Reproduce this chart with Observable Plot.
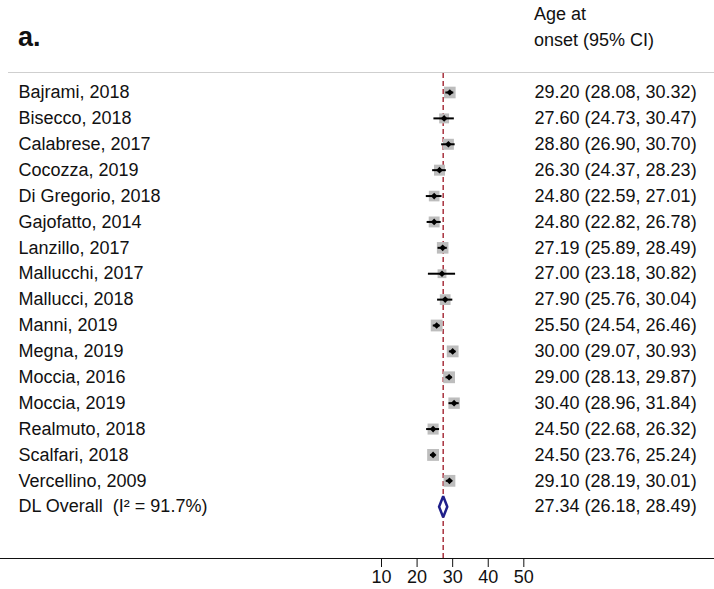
<!DOCTYPE html>
<html>
<head>
<meta charset="utf-8">
<script src="https://cdn.jsdelivr.net/npm/d3@7"></script>
<script src="https://cdn.jsdelivr.net/npm/@observablehq/plot@0.6"></script>
<style>
  html, body { margin: 0; padding: 0; background: #fff; }
  body { width: 714px; height: 589px; overflow: hidden; font-family: "Liberation Sans", Arial, sans-serif; color: #111; }
  #header { position: relative; height: 72px; margin-left: 8px; border-bottom: 1.5px solid #cfcfcf; }
  #panel { position: absolute; left: 10px; top: 22px; font-size: 27px; font-weight: bold; line-height: 30px; }
  #colhead { position: absolute; left: 526px; top: 1px; font-size: 18px; line-height: 26px; }
  #chart svg { display: block; }
</style>
</head>
<body>
<div id="header">
  <div id="panel">a.</div>
  <div id="colhead">Age at<br>onset (95% CI)</div>
</div>
<div id="chart"></div>
<script>
// ---- data ----
const studies = [
  "Bajrami, 2018", "Bisecco, 2018", "Calabrese, 2017", "Cocozza, 2019",
  "Di Gregorio, 2018", "Gajofatto, 2014", "Lanzillo, 2017", "Mallucchi, 2017",
  "Mallucci, 2018", "Manni, 2019", "Megna, 2019", "Moccia, 2016",
  "Moccia, 2019", "Realmuto, 2018", "Scalfari, 2018", "Vercellino, 2009"
];
const estimates = [29.20, 27.60, 28.80, 26.30, 24.80, 24.80, 27.19, 27.00, 27.90, 25.50, 30.00, 29.00, 30.40, 24.50, 24.50, 29.10];
const lowerCI   = [28.08, 24.73, 26.90, 24.37, 22.59, 22.82, 25.89, 23.18, 25.76, 24.54, 29.07, 28.13, 28.96, 22.68, 23.76, 28.19];
const upperCI   = [30.32, 30.47, 30.70, 28.23, 27.01, 26.78, 28.49, 30.82, 30.04, 26.46, 30.93, 29.87, 31.84, 26.32, 25.24, 30.01];
const weights   = [7.3, 5.3, 6.5, 6.5, 6.1, 6.4, 7.2, 4.2, 6.2, 7.5, 7.5, 7.5, 7.0, 6.6, 7.6, 7.5]; // estimated % weights (box sizes)
const overallLabel = "DL Overall\u00a0 (I\u00b2 = 91.7%)";
const overallEst = 27.34, overallLow = 26.18, overallHigh = 28.49;
const xTicks = [10, 20, 30, 40, 50];

// ---- tables ----
const rows = studies.map((name, i) => ({
  name, est: estimates[i], lo: lowerCI[i], hi: upperCI[i], w: weights[i], row: i
}));
const overallRow = studies.length;
const fmt = d => `${d.est.toFixed(2)} (${d.lo.toFixed(2)}, ${d.hi.toFixed(2)})`;
const textRows = rows.map(d => ({label: d.name, ci: fmt(d), row: d.row}))
  .concat([{label: overallLabel, ci: fmt({est: overallEst, lo: overallLow, hi: overallHigh}), row: overallRow}]);
const halfH = 0.405;
const diamond = [
  {x: overallLow, y: overallRow},
  {x: overallEst, y: overallRow - halfH},
  {x: overallHigh, y: overallRow},
  {x: overallEst, y: overallRow + halfH},
  {x: overallLow, y: overallRow}
];

const font = "'Liberation Sans', Arial, sans-serif";
const chart = Plot.plot({
  width: 714,
  height: 516,
  marginTop: 0,
  marginBottom: 31,
  marginLeft: 0,
  marginRight: 0,
  style: {fontFamily: font, fontSize: "18px", color: "#111", background: "#fff"},
  x: {domain: [-97.1, 103.6]},
  y: {domain: [-0.734, 18], reverse: true, axis: null},
  r: {type: "sqrt", domain: [0, 7.6], range: [0, 6.7]},
  marks: [
    Plot.ruleX([overallEst], {stroke: "#a8323e", strokeWidth: 1.5, strokeDasharray: "5,3"}),
    Plot.dot(rows, {x: "est", y: "row", r: "w", symbol: "square", fill: "#bdbdbd", stroke: "none"}),
    Plot.ruleY(rows, {y: "row", x1: "lo", x2: "hi", stroke: "#000", strokeWidth: 2}),
    Plot.dot(rows, {x: "est", y: "row", r: 3, symbol: "diamond2", fill: "#000", stroke: "none"}),
    Plot.line(diamond, {x: "x", y: "y", stroke: "#1f1f8a", strokeWidth: 2.5, fill: "#fff", strokeLinejoin: "miter"}),
    Plot.text(textRows, {y: "row", text: "label", frameAnchor: "left", dx: 18, textAnchor: "start", fontSize: 18, fill: "#111"}),
    Plot.text(textRows, {y: "row", text: "ci", frameAnchor: "left", dx: 534, textAnchor: "start", fontSize: 18, fill: "#111"}),
    Plot.frame({anchor: "bottom", stroke: "#111", strokeWidth: 1.2}),
    Plot.axisX({ticks: xTicks, tickSize: 9, tickPadding: 3, fontSize: 18, label: null, stroke: "#111"})
  ]
});
document.getElementById("chart").appendChild(chart);
</script>
</body>
</html>
